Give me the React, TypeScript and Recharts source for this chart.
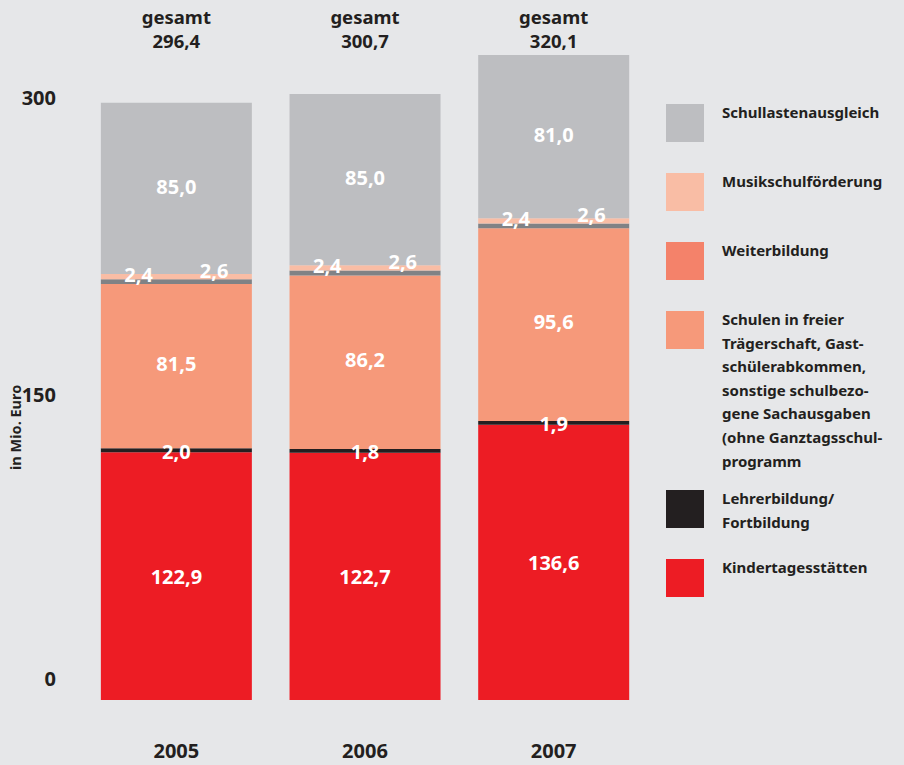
import { BarChart, Bar, XAxis, YAxis, Legend, LabelList } from 'recharts';

// data (Mio. Euro)
const years = ['2005', '2006', '2007'];
const kita = [122.9, 122.7, 136.6];
const lehrer = [2.0, 1.8, 1.9];
const schulen = [81.5, 86.2, 95.6];
const weiter = [2.4, 2.4, 2.4];
const musik = [2.6, 2.6, 2.6];
const schullast = [85.0, 85.0, 81.0];
const totals = [296.4, 300.7, 320.1];
const yTicks = [0, 150, 300];

const legendItems = [
  { label: 'Schullastenausgleich', color: '#BDBEC1' },
  { label: 'Musikschulförderung', color: '#F9BDA5' },
  { label: 'Weiterbildung', color: '#F4826A' },
  {
    label:
      'Schulen in freier\nTrägerschaft, Gast-\nschülerabkommen,\nsonstige schulbezo-\ngene Sachausgaben\n(ohne Ganztagsschul-\nprogramm',
    color: '#F6997A',
  },
  { label: 'Lehrerbildung/\nFortbildung', color: '#231F20' },
  { label: 'Kindertagesstätten', color: '#ED1C24' },
];

const data = years.map((year, i) => ({
  year,
  kita: kita[i],
  lehrer: lehrer[i],
  schulen: schulen[i],
  weiter: weiter[i],
  musik: musik[i],
  schullast: schullast[i],
  total: totals[i],
}));

const FONT = '"Noto Sans", "Open Sans", sans-serif';
const DARK = '#231F20';
const fmt = (v: number) => v.toFixed(1).replace('.', ',');

// label inside a bar segment; fx = horizontal position as fraction of width, dy = shift
const segLabel = (fx: number, dy: number) => (props: any) => {
  const { x, y, width, height, value } = props;
  return (
    <text
      x={Number(x) + Number(width) * fx}
      y={Number(y) + Number(height) / 2 + dy}
      fill="#fff"
      fontFamily={FONT}
      fontWeight={700}
      fontSize={20}
      textAnchor="middle"
      dominantBaseline="central"
    >
      {fmt(Number(value))}
    </text>
  );
};

const YTick = (props: any) => {
  const { x, y, payload } = props;
  const dy = payload.value === 0 ? -22 : payload.value === 150 ? -3 : 2;
  return (
    <text
      x={x - 18}
      y={y + dy}
      fill={DARK}
      fontFamily={FONT}
      fontWeight={700}
      fontSize={20}
      textAnchor="end"
      dominantBaseline="central"
    >
      {payload.value}
    </text>
  );
};

const BottomTick = (props: any) => {
  const { x, y, payload } = props;
  return (
    <text x={x} y={y + 42} fill={DARK} fontFamily={FONT} fontWeight={700} fontSize={20} textAnchor="middle" dominantBaseline="central">
      {payload.value}
    </text>
  );
};

const TopTick = (props: any) => {
  const { x, y, index } = props;
  return (
    <g>
      <text x={x} y={y - 11} fill={DARK} fontFamily={FONT} fontWeight={700} fontSize={18.5} textAnchor="middle" dominantBaseline="central">
        gesamt
      </text>
      <text x={x} y={y + 13} fill={DARK} fontFamily={FONT} fontWeight={700} fontSize={18.5} textAnchor="middle" dominantBaseline="central">
        {fmt(totals[index])}
      </text>
    </g>
  );
};

const AxisTitle = (props: any) => {
  const { viewBox } = props;
  const cx = viewBox.x + 15;
  const cy = viewBox.y + viewBox.height * 0.59;
  return (
    <text
      x={cx}
      y={cy}
      transform={`rotate(-90 ${cx} ${cy})`}
      fill={DARK}
      fontFamily={FONT}
      fontWeight={700}
      fontSize={14.5}
      textAnchor="middle"
      dominantBaseline="central"
    >
      in Mio. Euro
    </text>
  );
};

const LegendBox = () => (
  <div style={{ fontFamily: FONT, fontWeight: 700, fontSize: 15, color: DARK }}>
    {legendItems.map((item) => {
      const lines = item.label.split('\n');
      return (
        <div key={item.label} style={{ display: 'flex', height: Math.max(69, lines.length * 23.6 + 14) }}>
          <div style={{ width: 38, height: 38, background: item.color, flex: 'none' }} />
          <div style={{ marginLeft: 18, marginTop: -3, lineHeight: '23.6px', whiteSpace: 'pre' }}>{item.label}</div>
        </div>
      );
    })}
  </div>
);

export default function App() {
  return (
    <div style={{ position: 'absolute', left: 0, top: 0, width: 904, height: 765, background: '#E6E7E9' }}>
      <BarChart width={904} height={765} data={data} margin={{ top: 0, right: 18, left: 0, bottom: 0 }} barCategoryGap="10%">
        <YAxis
          domain={[0, 330]}
          ticks={yTicks}
          width={82}
          axisLine={false}
          tickLine={false}
          tick={<YTick />}
          label={<AxisTitle />}
        />
        <XAxis dataKey="year" height={65} axisLine={false} tickLine={false} tick={<BottomTick />} />
        <XAxis
          dataKey="year"
          xAxisId="top"
          orientation="top"
          height={35}
          axisLine={false}
          tickLine={false}
          tick={<TopTick />}
        />
        <Legend
          layout="vertical"
          align="right"
          verticalAlign="top"
          content={<LegendBox />}
          wrapperStyle={{ position: 'absolute', left: 666, top: 104, width: 238 }}
        />
        <Bar dataKey="kita" stackId="a" fill="#ED1C24" isAnimationActive={false} legendType="none">
          <LabelList dataKey="kita" content={segLabel(0.5, 0)} />
        </Bar>
        <Bar dataKey="lehrer" stackId="a" fill={DARK} isAnimationActive={false} legendType="none">
          <LabelList dataKey="lehrer" content={segLabel(0.5, 1)} />
        </Bar>
        <Bar dataKey="schulen" stackId="a" fill="#F6997A" isAnimationActive={false} legendType="none">
          <LabelList dataKey="schulen" content={segLabel(0.5, -3)} />
        </Bar>
        <Bar dataKey="weiter" stackId="a" fill="#808285" isAnimationActive={false} legendType="none">
          <LabelList dataKey="weiter" content={segLabel(0.25, -7)} />
        </Bar>
        <Bar dataKey="musik" stackId="a" fill="#F9BDA5" isAnimationActive={false} legendType="none">
          <LabelList dataKey="musik" content={segLabel(0.75, -6)} />
        </Bar>
        <Bar dataKey="schullast" stackId="a" fill="#BDBEC1" isAnimationActive={false} legendType="none">
          <LabelList dataKey="schullast" content={segLabel(0.5, -2)} />
        </Bar>
      </BarChart>
    </div>
  );
}
